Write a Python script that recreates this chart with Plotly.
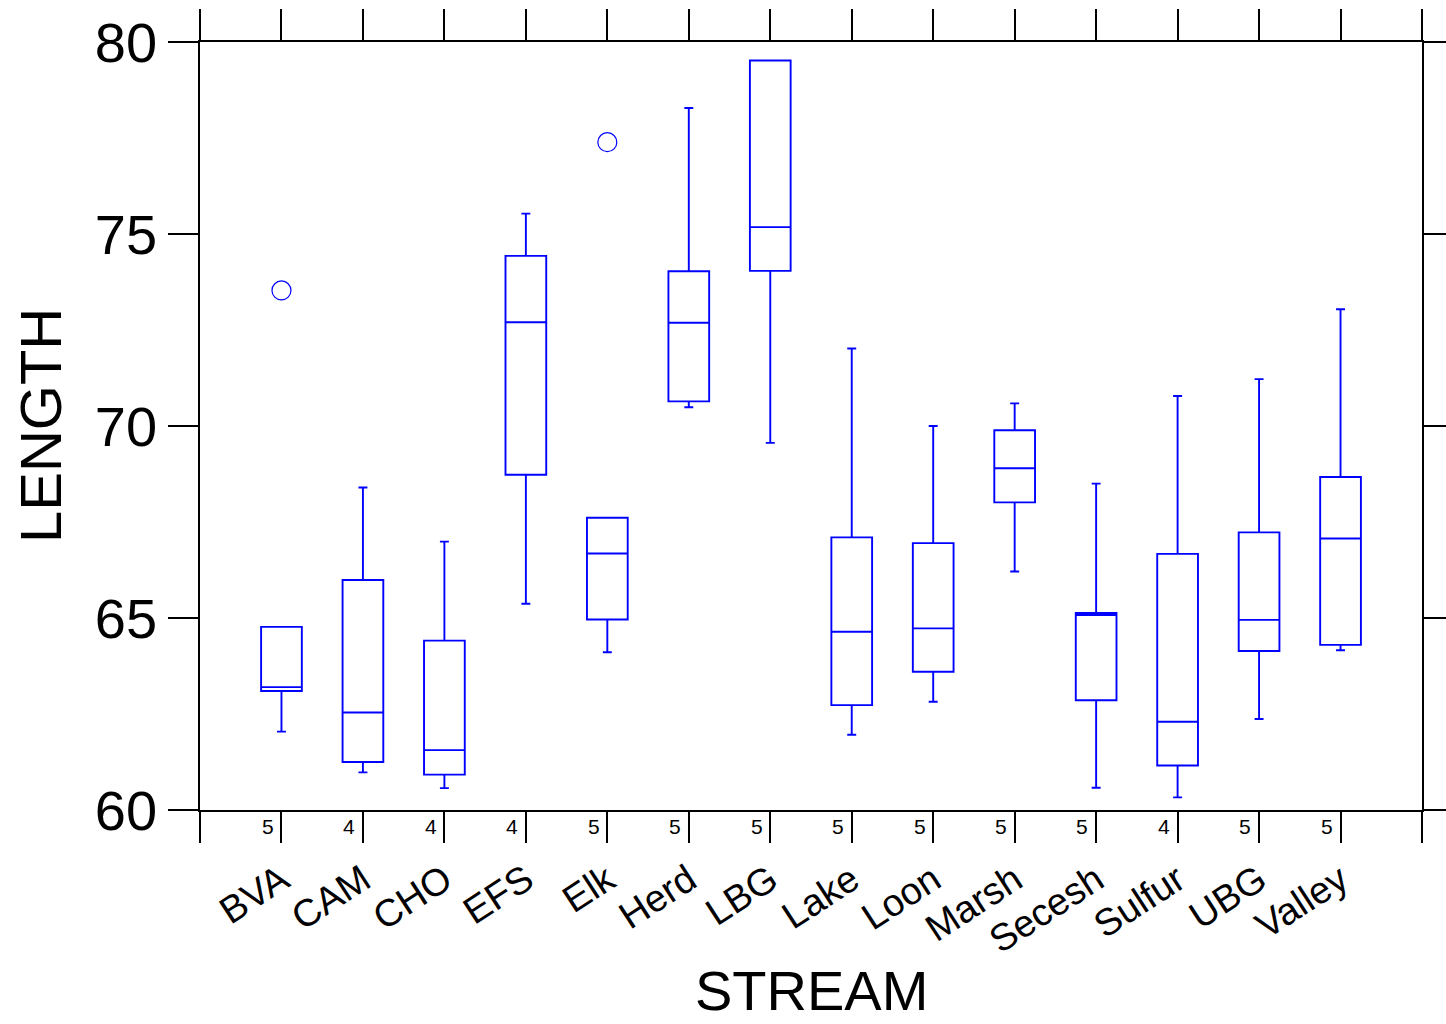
import plotly.graph_objects as go

streams = ["BVA", "CAM", "CHO", "EFS", "Elk", "Herd", "LBG", "Lake", "Loon",
           "Marsh", "Secesh", "Sulfur", "UBG", "Valley"]
lower_whisker = [62.04, 60.98, 60.57, 65.37, 64.11, 70.49, 69.56, 61.96, 62.82,
                 66.21, 60.58, 60.33, 62.37, 64.16]
q1_vals = [63.10, 61.25, 60.92, 68.73, 64.96, 70.64, 74.04, 62.73, 63.60,
           68.01, 62.86, 61.16, 64.14, 64.30]
median_vals = [63.20, 62.54, 61.56, 72.70, 66.68, 72.69, 75.18, 64.64, 64.73,
               68.90, 65.08, 62.30, 64.95, 67.07]
q3_vals = [64.77, 65.99, 64.41, 74.43, 67.61, 74.03, 79.52, 67.10, 66.95,
           69.89, 65.13, 66.67, 67.23, 68.67]
upper_whisker = [64.77, 68.40, 66.99, 75.53, 67.61, 78.28, 79.52, 72.02, 70.00,
                 70.59, 68.50, 70.78, 71.22, 73.04]
counts = [5, 4, 4, 4, 5, 5, 5, 5, 5, 5, 5, 4, 5, 5]
outlier_streams = ["BVA", "Elk"]
outlier_values = [73.53, 77.39]
y_ticks = [60, 65, 70, 75, 80]

FONT = "Liberation Sans, Arial, sans-serif"
BLUE = "#0000FF"

pos = [i + 1 for i in range(len(streams))]
fig = go.Figure()
fig.add_trace(go.Box(
    x=pos, q1=q1_vals, median=median_vals, q3=q3_vals,
    lowerfence=lower_whisker, upperfence=upper_whisker,
    width=0.5, whiskerwidth=0.22,
    fillcolor="rgba(0,0,0,0)", line=dict(color=BLUE, width=1.9),
    boxpoints=False, showlegend=False, hoverinfo="y",
))
fig.add_trace(go.Scatter(
    x=[streams.index(s) + 1 for s in outlier_streams], y=outlier_values,
    mode="markers",
    marker=dict(symbol="circle-open", size=19, color=BLUE, line=dict(width=1.2, color=BLUE)),
    showlegend=False,
))

annotations = []
for i, n in enumerate(counts):
    annotations.append(dict(
        x=i + 1 - 0.07, xref="x", y=0, yref="paper", yanchor="top", xanchor="right",
        yshift=-3, text=str(n), showarrow=False,
        font=dict(family=FONT, size=21, color="black"),
    ))
annotations.append(dict(
    x=0, xref="paper", y=0.5, yref="paper", xshift=-160, textangle=-90,
    text="LENGTH", showarrow=False, xanchor="center", yanchor="middle",
    font=dict(family=FONT, size=58, color="black"),
))
annotations.append(dict(
    x=0.5, xref="paper", y=0, yref="paper", yshift=-180,
    text="STREAM", showarrow=False, xanchor="center", yanchor="middle",
    font=dict(family=FONT, size=56, color="black"),
))

fig.update_layout(
    width=1446, height=1024,
    margin=dict(l=200, r=24, t=42, b=214, autoexpand=False),
    paper_bgcolor="white", plot_bgcolor="white",
    annotations=annotations,
    font=dict(family=FONT, color="black"),
)
fig.update_xaxes(
    range=[0, len(streams) + 1],
    tickvals=list(range(0, len(streams) + 2)),
    ticktext=[""] + streams + [""],
    tickangle=-33,
    tickfont=dict(family=FONT, size=38, color="black"),
    ticks="outside", ticklen=31, tickwidth=1.5, tickcolor="black",
    showline=True, linecolor="black", linewidth=1.5, mirror="ticks",
    showgrid=False, zeroline=False, automargin=False,
)
fig.update_yaxes(
    range=[60, 80],
    tickvals=y_ticks,
    ticktext=[str(v) for v in y_ticks],
    tickfont=dict(family=FONT, size=56, color="black"),
    ticks="outside", ticklen=30, tickwidth=1.5, tickcolor="black",
    showline=True, linecolor="black", linewidth=1.5, mirror="ticks",
    showgrid=False, zeroline=False, automargin=False,
)

fig.write_html("out.html")
